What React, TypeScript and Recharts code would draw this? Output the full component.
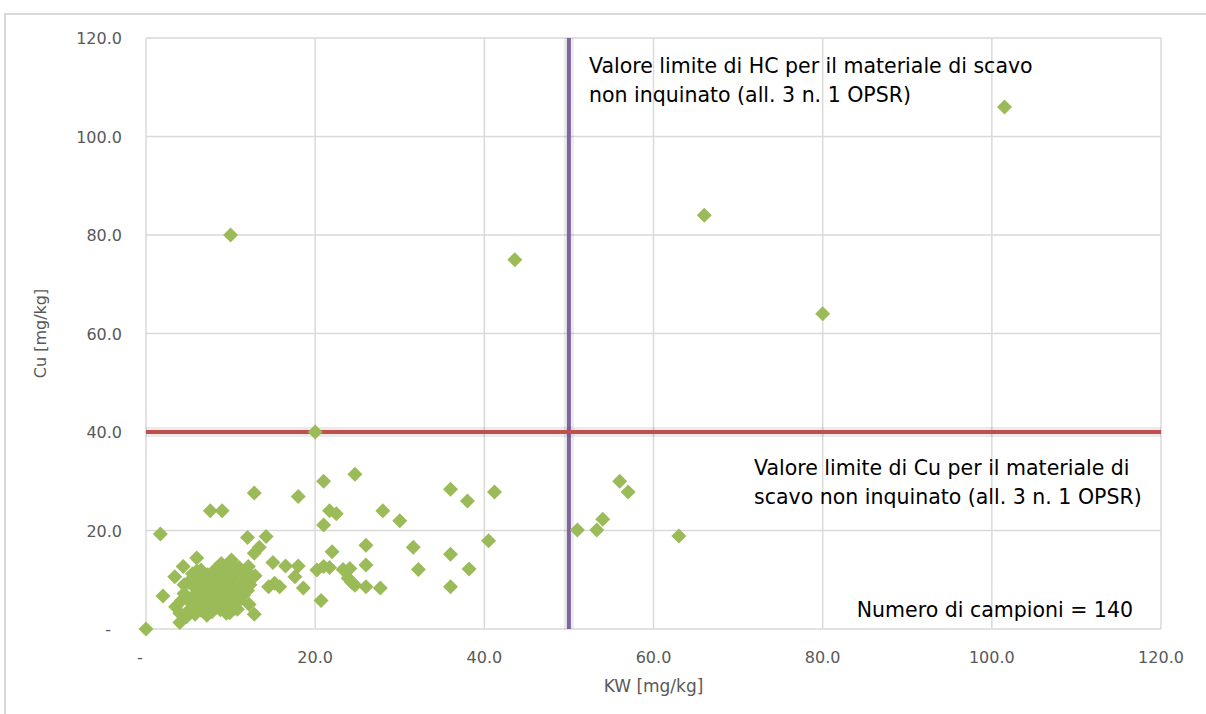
import { CartesianGrid, Label, ReferenceLine, Scatter, ScatterChart, XAxis, YAxis } from 'recharts'

// KW [mg/kg]
const kw = [
  0, 1.7, 2, 4, 3.4, 4.4, 6, 7.6, 9, 10,
  12.8, 12, 14.2, 13.4, 12.8, 15, 16.5, 18, 17.6, 18.6,
  15.8, 15.2, 12.8, 9.9, 10.5, 12.9, 12.1, 8.9, 10.1, 12.1,
  14.5, 10.9, 18, 21, 24.7, 21.7, 22.5, 21, 28, 30,
  36, 38, 41.2, 40.5, 36, 38.2, 36, 31.6, 32.2, 26,
  26, 22, 27.7, 26, 20.7, 20.2, 21, 21.7, 23.3, 24.1,
  23.9, 24.7, 24.3, 20, 43.6, 51, 53.3, 54, 56, 57,
  63, 66, 80, 101.5,
  3.5, 4, 4.2, 4.5, 4.8, 5, 5.2, 5.5, 5.5, 5.8,
  6, 6.2, 6.3, 6.5, 6.5, 6.8, 7, 7, 7.2, 7.3,
  7.5, 7.5, 7.8, 7.8, 8, 8, 8.2, 8.3, 8.5, 8.5,
  8.7, 8.8, 9, 9, 9.2, 9.3, 9.5, 9.5, 9.7, 9.8,
  10, 10, 10.2, 10.3, 10.5, 10.6, 10.8, 11, 11, 11.2,
  11.5, 11.5, 11.8, 12, 12.2, 12.3, 4.5, 5.8, 6.8, 5,
  7.2, 6, 8.2, 9.5, 10.8, 11.8,
]

// Cu [mg/kg]
const cu = [
  0, 19.3, 6.7, 1.3, 10.6, 12.7, 14.4, 24, 24, 80,
  27.6, 18.6, 18.8, 16.6, 15.4, 13.5, 12.8, 12.8, 10.6, 8.3,
  8.6, 9.3, 3, 3.3, 4.2, 10.8, 12.7, 13.3, 14, 11.3,
  8.6, 12, 26.9, 30, 31.4, 24, 23.4, 21.1, 24, 22,
  28.4, 26, 27.8, 17.9, 15.2, 12.2, 8.6, 16.6, 12.1, 17,
  13, 15.7, 8.3, 8.6, 5.8, 12, 12.7, 12.5, 12.1, 12.3,
  10.3, 8.9, 9.5, 40, 75, 20.1, 20.1, 22.3, 30, 27.8,
  18.9, 84, 64, 106,
  4.5, 3.2, 5.8, 7.2, 2.5, 9.5, 4, 6.5, 11.2, 3,
  8, 5.2, 10.2, 3.8, 12, 6.8, 4.5, 9, 2.8, 11,
  5.5, 7.5, 3.5, 10, 6.2, 8.5, 4.8, 12.3, 5.8, 9.5,
  7, 3.9, 10.8, 6, 8.2, 4.5, 11.8, 7.2, 9.2, 5.2,
  13.5, 8, 6.5, 10.2, 11.5, 7.5, 9, 5.8, 12.5, 8.5,
  10, 6.8, 9.5, 7.8, 5, 9, 9, 8.5, 4, 5.8,
  6.5, 11.8, 11, 3.2, 4, 11.5,
]

const ticks = [0, 20, 40, 60, 80, 100, 120]
const kwLimit = 50
const cuLimit = 40

const samples = kw.map((x, i) => ({ kw: x, cu: cu[i] }))

const font = '"DejaVu Sans", sans-serif'
const fmt = (v: number) => (v === 0 ? '-' : v.toFixed(1))

const Diamond = (props: any) => {
  const { cx, cy } = props
  const r = 7.5
  return <path d={`M${cx},${cy - r}L${cx + r},${cy}L${cx},${cy + r}L${cx - r},${cy}Z`} fill="#9bbb59" />
}

const XTick = (props: any) => {
  const { x, y, payload } = props
  return (
    <text x={payload.value === 0 ? x - 6 : x} y={y} dy={34} textAnchor="middle" fill="#595959" fontSize={16} fontFamily={font}>
      {fmt(payload.value)}
    </text>
  )
}

const YTick = (props: any) => {
  const { x, y, payload } = props
  return (
    <text x={payload.value === 0 ? x - 35 : x - 24} y={y} dy={6} textAnchor="end" fill="#595959" fontSize={16} fontFamily={font}>
      {fmt(payload.value)}
    </text>
  )
}

const note = { position: 'absolute' as const, fontFamily: font, fontSize: 20.5, color: '#000', lineHeight: '29px', whiteSpace: 'nowrap' as const }

export default function App() {
  return (
    <div style={{ position: 'relative', width: 1206, height: 714, overflow: 'hidden', background: '#fff' }}>
      <style>{'body{margin:0}'}</style>
      <div style={{ position: 'absolute', left: 4, top: 13, width: 1220, height: 720, border: '2px solid #d9d9d9' }} />
      <ScatterChart width={1206} height={714} margin={{ top: 38, right: 45, bottom: 0, left: 0 }}>
        <CartesianGrid stroke="#d9d9d9" strokeWidth={1.5} />
        <XAxis type="number" dataKey="kw" domain={[0, 120]} ticks={ticks} height={85} axisLine={false} tickLine={false} tickSize={0} tickMargin={0} tick={<XTick />} interval={0}>
          <Label value="KW [mg/kg]" position="insideBottom" offset={22} fill="#595959" fontSize={17} fontFamily={font} />
        </XAxis>
        <YAxis type="number" dataKey="cu" domain={[0, 120]} ticks={ticks} width={146} axisLine={false} tickLine={false} tickSize={0} tickMargin={0} tick={<YTick />} interval={0}>
          <Label value="Cu [mg/kg]" angle={-90} position="insideLeft" offset={40} fill="#595959" fontSize={16} fontFamily={font} style={{ textAnchor: 'middle' }} />
        </YAxis>
        <ReferenceLine x={kwLimit} stroke="#000" strokeOpacity={0.08} strokeWidth={10} />
        <ReferenceLine x={kwLimit} stroke="#8064a2" strokeWidth={4} />
        <ReferenceLine y={cuLimit} stroke="#000" strokeOpacity={0.08} strokeWidth={10} />
        <ReferenceLine y={cuLimit} stroke="#c0504d" strokeWidth={4} />
        <Scatter data={samples} shape={<Diamond />} isAnimationActive={false} />
      </ScatterChart>
      <div style={{ ...note, left: 589, top: 52 }}>
        Valore limite di HC per il materiale di scavo
        <br />
        non inquinato (all. 3 n. 1 OPSR)
      </div>
      <div style={{ ...note, left: 754, top: 454 }}>
        Valore limite di Cu per il materiale di
        <br />
        scavo non inquinato (all. 3 n. 1 OPSR)
      </div>
      <div style={{ ...note, right: 1206 - 1133, top: 596, textAlign: 'right' }}>Numero di campioni = 140</div>
    </div>
  )
}
